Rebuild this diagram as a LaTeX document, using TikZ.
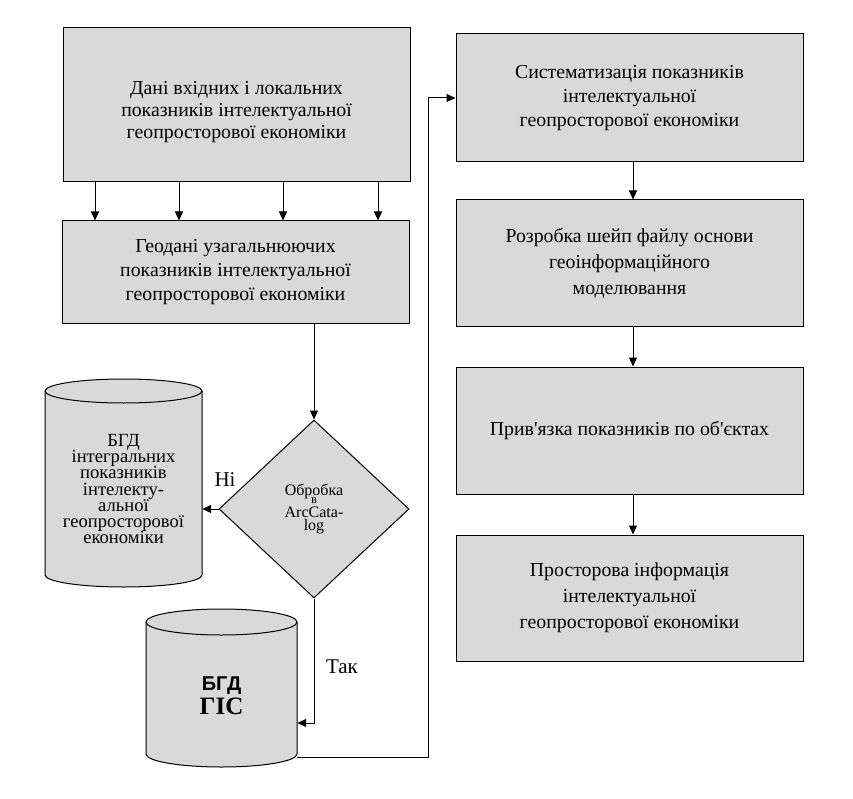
\documentclass[tikz,border=0pt]{standalone}
\usepackage{fontspec}
\setmainfont{Liberation Serif}
\newfontfamily\sansfont{Liberation Sans}
\newfontfamily\straightfont{Liberation Serif}[Ligatures=TeXOff]
\newcommand\sq{{\straightfont'}}
\newcommand\fsz[2]{\fontsize{#1}{#2}\selectfont\lineskiplimit=-30pt\relax}
\usetikzlibrary{arrows.meta,shapes.geometric}
\definecolor{boxgray}{RGB}{217,217,217}
\begin{document}
\begin{tikzpicture}[x=1pt,y=-1pt,
  every node/.style={font=\fsz{19.8}{24}},
  block/.style={draw,fill=boxgray,line width=1pt,align=center,inner sep=0pt,minimum width=347pt},
  link/.style={line width=1pt,-{Triangle[length=9pt,width=8pt]}},
  drum/.style={draw,fill=boxgray,line width=1pt},
  drumlabel/.style={align=center,inner sep=0pt}]
\useasboundingbox (0,0) rectangle (853,799);

% left column
\node[block,minimum height=154pt,font=\fsz{19.8}{22}] (box1) at (236.5,105)
  {\rule{0pt}{27pt}Дані вхідних і локальних\\показників інтелектуальної\\геопросторової економіки};
\node[block,minimum height=102pt] (box2) at (235.5,272)
  {Геодані узагальнюючих\\показників інтелектуальної\\геопросторової економіки};

% right column
\node[block,minimum height=128pt] (box3) at (629.5,98)
  {Систематизація показників\\інтелектуальної\\геопросторової економіки};
\node[block,minimum height=126pt,font=\fsz{19.8}{26}] (box4) at (629.5,263)
  {Розробка шейп файлу основи\\геоінформаційного\\моделювання};
\node[block,minimum height=127pt] (box5) at (629.5,430.5)
  {Прив\sq язка показників по об\sq єктах};
\node[block,minimum height=126pt,font=\fsz{19.8}{26}] (box6) at (629.5,598)
  {Просторова інформація\\інтелектуальної\\геопросторової економіки};

% decision
\node[diamond,draw,fill=boxgray,line width=1pt,minimum width=190pt,minimum height=178pt,
  inner sep=0pt,align=center,font=\fsz{16}{13}] (dec) at (314,509)
  {Обробка\\[-4.5pt]{\fsz{12.5}{13}в}\\[1pt]ArcCata-\\log};

% database cylinders
\filldraw[drum] (45,391) -- (45,575)
  arc[start angle=180,end angle=360,x radius=78.5pt,y radius=12pt] -- (202,391)
  arc[start angle=0,end angle=180,x radius=78.5pt,y radius=12pt] -- cycle;
\draw[line width=1pt] (45,391) arc[start angle=180,end angle=360,x radius=78.5pt,y radius=12pt];
\node[drumlabel,minimum width=157pt,font=\fsz{18.6}{16.2}] (cyl1) at (123.5,489)
  {БГД\\інтегральних\\показників\\інтелекту-\\альної\\геопросторової\\економіки};

\filldraw[drum] (146,622) -- (146,754)
  arc[start angle=180,end angle=360,x radius=75.5pt,y radius=13pt] -- (297,622)
  arc[start angle=0,end angle=180,x radius=75.5pt,y radius=13pt] -- cycle;
\draw[line width=1pt] (146,622) arc[start angle=180,end angle=360,x radius=75.5pt,y radius=13pt];
\node[drumlabel,minimum width=151pt] (cyl2) at (221.5,696)
  {\sansfont\bfseries\fsz{20}{25}БГД\\
   \rmfamily\bfseries\fsz{25}{25}ГІС};

% labels
\node[font=\fsz{21}{24}] (no) at (225,480) {Ні};
\node[font=\fsz{21}{24}] (yes) at (342,667) {Так};

% connectors
\foreach \px in {95,179,283,378}
  \draw[link] (box1.south -| \px,0) -- (box2.north -| \px,0);
\draw[link] (box2.south -| dec.north) -- (dec.north);
\draw[link] (dec.west) -- (cyl1.east |- dec.west);
\draw[link] (dec.south) |- ([yshift=-27pt]cyl2.east);
\coordinate (gisout) at ([yshift=-61pt]cyl2.east);
\draw[link] (gisout) -- (428,757) |- (box3.west);
\draw[link] ([xshift=3.5pt]box3.south) -- ([xshift=3.5pt]box4.north);
\draw[link] ([xshift=3.5pt]box4.south) -- ([xshift=3.5pt]box5.north);
\draw[link] ([xshift=3.5pt]box5.south) -- ([xshift=3.5pt]box6.north);
\end{tikzpicture}
\end{document}
